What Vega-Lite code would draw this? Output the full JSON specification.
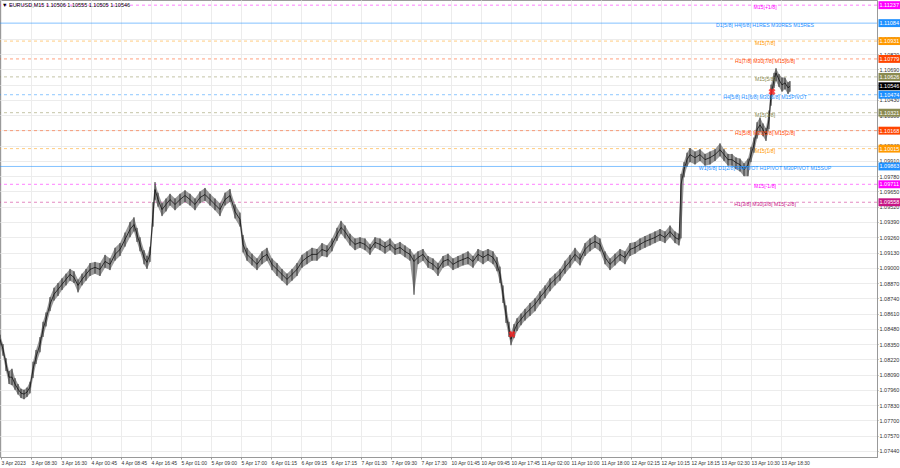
{
"$schema": "https://vega.github.io/schema/vega-lite/v6.json",
"width": 877, "height": 457,
"autosize": {"type": "none"},
"padding": {"left": 0, "top": 0, "right": 23, "bottom": 11},
"background": "white",
"config": {"view": {"stroke": "#9a9a9a"}, "font": "Liberation Sans", "axis": {"labelOverlap": false, "labelBound": false, "labelFlush": false}},
"datasets": {
"bars": [
{"i":0,"h":1.0843,"l":1.0834,"c":1.08391},{"i":3,"h":1.0835,"l":1.0825,"c":1.08306},{"i":6,"h":1.0823,"l":1.0812,"c":1.08179},{"i":9,"h":1.0812,"l":1.0801,"c":1.08068},{"i":12,"h":1.0814,"l":1.08,"c":1.08068},{"i":15,"h":1.0806,"l":1.0796,"c":1.08009},{"i":18,"h":1.0801,"l":1.0792,"c":1.07966},{"i":21,"h":1.0797,"l":1.0789,"c":1.07932},{"i":24,"h":1.0796,"l":1.0788,"c":1.07924},{"i":27,"h":1.0798,"l":1.079,"c":1.07941},{"i":30,"h":1.0803,"l":1.0793,"c":1.07983},{"i":33,"h":1.082,"l":1.0806,"c":1.08136},{"i":36,"h":1.083,"l":1.0818,"c":1.08238},{"i":40,"h":1.0841,"l":1.0828,"c":1.08349},{"i":43,"h":1.0854,"l":1.0841,"c":1.08476},{"i":46,"h":1.0862,"l":1.085,"c":1.08561},{"i":50,"h":1.0875,"l":1.0863,"c":1.08689},{"i":54,"h":1.0883,"l":1.0872,"c":1.08774},{"i":58,"h":1.0887,"l":1.0876,"c":1.08816},{"i":62,"h":1.0891,"l":1.0881,"c":1.08859},{"i":66,"h":1.0895,"l":1.0885,"c":1.08901},{"i":70,"h":1.0899,"l":1.0889,"c":1.08944},{"i":74,"h":1.0897,"l":1.0887,"c":1.08918},{"i":78,"h":1.089,"l":1.0879,"c":1.0885},{"i":82,"h":1.0895,"l":1.0885,"c":1.08901},{"i":86,"h":1.0899,"l":1.0889,"c":1.08944},{"i":90,"h":1.0904,"l":1.0893,"c":1.08986},{"i":95,"h":1.0905,"l":1.0895,"c":1.09003},{"i":100,"h":1.0904,"l":1.0893,"c":1.08986},{"i":105,"h":1.0911,"l":1.09,"c":1.09054},{"i":110,"h":1.0908,"l":1.0898,"c":1.09029},{"i":115,"h":1.0917,"l":1.0906,"c":1.09114},{"i":120,"h":1.0921,"l":1.091,"c":1.09156},{"i":125,"h":1.093,"l":1.0918,"c":1.09241},{"i":130,"h":1.0939,"l":1.0926,"c":1.09326},{"i":134,"h":1.0943,"l":1.0931,"c":1.09368},{"i":137,"h":1.0934,"l":1.0922,"c":1.09283},{"i":140,"h":1.0926,"l":1.0914,"c":1.09199},{"i":144,"h":1.0915,"l":1.0903,"c":1.09088},{"i":147,"h":1.091,"l":1.0899,"c":1.09046},{"i":150,"h":1.0918,"l":1.0905,"c":1.09114},{"i":153,"h":1.0956,"l":1.0935,"c":1.09454},{"i":155,"h":1.0973,"l":1.0958,"c":1.09666},{"i":158,"h":1.0964,"l":1.0952,"c":1.09581},{"i":162,"h":1.0955,"l":1.0944,"c":1.09496},{"i":166,"h":1.0959,"l":1.0948,"c":1.09539},{"i":170,"h":1.0963,"l":1.0953,"c":1.09581},{"i":175,"h":1.0959,"l":1.0949,"c":1.09539},{"i":180,"h":1.0963,"l":1.0953,"c":1.09581},{"i":185,"h":1.0966,"l":1.0956,"c":1.09615},{"i":190,"h":1.0963,"l":1.0953,"c":1.09581},{"i":195,"h":1.0959,"l":1.0949,"c":1.09539},{"i":200,"h":1.0965,"l":1.0955,"c":1.09598},{"i":205,"h":1.0968,"l":1.0957,"c":1.09624},{"i":210,"h":1.0963,"l":1.0953,"c":1.09581},{"i":215,"h":1.0959,"l":1.0949,"c":1.09539},{"i":220,"h":1.0955,"l":1.0944,"c":1.09496},{"i":225,"h":1.0964,"l":1.0953,"c":1.09581},{"i":230,"h":1.0967,"l":1.0956,"c":1.09615},{"i":235,"h":1.0954,"l":1.0942,"c":1.09479},{"i":240,"h":1.0947,"l":1.0935,"c":1.09411},{"i":243,"h":1.0928,"l":1.0913,"c":1.09199},{"i":247,"h":1.0917,"l":1.0906,"c":1.09114},{"i":252,"h":1.0912,"l":1.0902,"c":1.09071},{"i":257,"h":1.0908,"l":1.0898,"c":1.09029},{"i":262,"h":1.0914,"l":1.0903,"c":1.09088},{"i":267,"h":1.0917,"l":1.0906,"c":1.09114},{"i":272,"h":1.0908,"l":1.0898,"c":1.09029},{"i":277,"h":1.0904,"l":1.0893,"c":1.08986},{"i":282,"h":1.0899,"l":1.0889,"c":1.08944},{"i":287,"h":1.0895,"l":1.0885,"c":1.08901},{"i":292,"h":1.0899,"l":1.0889,"c":1.08944},{"i":297,"h":1.0904,"l":1.0893,"c":1.08986},{"i":302,"h":1.0911,"l":1.09,"c":1.09054},{"i":307,"h":1.0914,"l":1.0903,"c":1.09088},{"i":312,"h":1.0917,"l":1.0906,"c":1.09114},{"i":317,"h":1.0916,"l":1.0906,"c":1.09114},{"i":322,"h":1.0921,"l":1.091,"c":1.09156},{"i":327,"h":1.0919,"l":1.0909,"c":1.09139},{"i":332,"h":1.0925,"l":1.0914,"c":1.09199},{"i":337,"h":1.0934,"l":1.0923,"c":1.09283},{"i":341,"h":1.094,"l":1.0929,"c":1.09343},{"i":345,"h":1.0936,"l":1.0925,"c":1.09309},{"i":350,"h":1.0929,"l":1.0919,"c":1.09241},{"i":355,"h":1.0925,"l":1.0915,"c":1.09199},{"i":360,"h":1.0926,"l":1.0917,"c":1.09216},{"i":365,"h":1.0925,"l":1.0915,"c":1.09199},{"i":370,"h":1.092,"l":1.0911,"c":1.09156},{"i":375,"h":1.0926,"l":1.0917,"c":1.09216},{"i":380,"h":1.0925,"l":1.0915,"c":1.09199},{"i":385,"h":1.0922,"l":1.0912,"c":1.09173},{"i":390,"h":1.0925,"l":1.0915,"c":1.09199},{"i":395,"h":1.092,"l":1.0911,"c":1.09156},{"i":400,"h":1.0922,"l":1.0912,"c":1.09173},{"i":405,"h":1.0919,"l":1.0909,"c":1.09139},{"i":410,"h":1.0916,"l":1.0906,"c":1.09114},{"i":414,"h":1.0911,"l":1.0877,"c":1.09054},{"i":418,"h":1.0914,"l":1.0903,"c":1.09088},{"i":423,"h":1.0916,"l":1.0906,"c":1.09114},{"i":428,"h":1.091,"l":1.09,"c":1.09054},{"i":433,"h":1.0908,"l":1.0898,"c":1.09029},{"i":438,"h":1.0904,"l":1.0893,"c":1.08986},{"i":443,"h":1.091,"l":1.09,"c":1.09054},{"i":448,"h":1.0912,"l":1.0902,"c":1.09071},{"i":453,"h":1.0908,"l":1.0898,"c":1.09029},{"i":458,"h":1.091,"l":1.09,"c":1.09054},{"i":463,"h":1.0912,"l":1.0902,"c":1.09071},{"i":468,"h":1.0914,"l":1.0903,"c":1.09088},{"i":473,"h":1.091,"l":1.09,"c":1.09054},{"i":478,"h":1.0916,"l":1.0906,"c":1.09114},{"i":483,"h":1.0914,"l":1.0903,"c":1.09088},{"i":488,"h":1.0916,"l":1.0906,"c":1.09114},{"i":493,"h":1.0914,"l":1.0903,"c":1.09088},{"i":497,"h":1.0909,"l":1.0897,"c":1.09029},{"i":500,"h":1.0901,"l":1.0887,"c":1.08944},{"i":503,"h":1.0885,"l":1.087,"c":1.08774},{"i":506,"h":1.0868,"l":1.0853,"c":1.08604},{"i":509,"h":1.0854,"l":1.0841,"c":1.08476},{"i":511,"h":1.0845,"l":1.0834,"c":1.08391},{"i":514,"h":1.0852,"l":1.084,"c":1.08459},{"i":517,"h":1.0857,"l":1.0846,"c":1.08519},{"i":521,"h":1.0861,"l":1.0851,"c":1.08561},{"i":525,"h":1.0865,"l":1.0855,"c":1.08604},{"i":530,"h":1.087,"l":1.0859,"c":1.08646},{"i":535,"h":1.0874,"l":1.0863,"c":1.08689},{"i":540,"h":1.088,"l":1.0869,"c":1.08748},{"i":545,"h":1.0885,"l":1.0874,"c":1.08799},{"i":550,"h":1.0891,"l":1.088,"c":1.08859},{"i":555,"h":1.0895,"l":1.0885,"c":1.08901},{"i":560,"h":1.0899,"l":1.0889,"c":1.08944},{"i":565,"h":1.0906,"l":1.0895,"c":1.09003},{"i":570,"h":1.0911,"l":1.09,"c":1.09054},{"i":575,"h":1.0917,"l":1.0906,"c":1.09114},{"i":580,"h":1.0912,"l":1.0902,"c":1.09071},{"i":585,"h":1.0921,"l":1.091,"c":1.09156},{"i":590,"h":1.0925,"l":1.0914,"c":1.09199},{"i":595,"h":1.0928,"l":1.0917,"c":1.09224},{"i":600,"h":1.0925,"l":1.0914,"c":1.09199},{"i":605,"h":1.0914,"l":1.0903,"c":1.09088},{"i":610,"h":1.0908,"l":1.0898,"c":1.09029},{"i":615,"h":1.0912,"l":1.0902,"c":1.09071},{"i":620,"h":1.0916,"l":1.0906,"c":1.09114},{"i":625,"h":1.0914,"l":1.0903,"c":1.09088},{"i":630,"h":1.0921,"l":1.091,"c":1.09156},{"i":635,"h":1.0922,"l":1.0912,"c":1.09173},{"i":640,"h":1.0925,"l":1.0915,"c":1.09199},{"i":645,"h":1.0927,"l":1.0917,"c":1.09224},{"i":650,"h":1.0929,"l":1.0919,"c":1.09241},{"i":655,"h":1.0931,"l":1.0921,"c":1.09258},{"i":660,"h":1.0933,"l":1.0923,"c":1.09283},{"i":665,"h":1.0931,"l":1.0921,"c":1.09258},{"i":670,"h":1.0936,"l":1.0926,"c":1.09309},{"i":675,"h":1.0931,"l":1.0921,"c":1.09258},{"i":679,"h":1.0929,"l":1.0919,"c":1.09241},{"i":681,"h":1.098,"l":1.0925,"c":1.09709},{"i":684,"h":1.099,"l":1.0977,"c":1.09836},{"i":687,"h":1.0998,"l":1.0986,"c":1.09921},{"i":690,"h":1.1002,"l":1.099,"c":1.09964},{"i":695,"h":1.0999,"l":1.0988,"c":1.09938},{"i":700,"h":1.1001,"l":1.0991,"c":1.09964},{"i":705,"h":1.0997,"l":1.0987,"c":1.09921},{"i":710,"h":1.0999,"l":1.0988,"c":1.09938},{"i":715,"h":1.1001,"l":1.0991,"c":1.09964},{"i":720,"h":1.1006,"l":1.0995,"c":1.10006},{"i":724,"h":1.1001,"l":1.0991,"c":1.09964},{"i":728,"h":1.0997,"l":1.0987,"c":1.09921},{"i":732,"h":1.0997,"l":1.0987,"c":1.09921},{"i":736,"h":1.0994,"l":1.0984,"c":1.09896},{"i":740,"h":1.0993,"l":1.0982,"c":1.09879},{"i":744,"h":1.0989,"l":1.0978,"c":1.09836},{"i":748,"h":1.0993,"l":1.0978,"c":1.09879},{"i":751,"h":1.1003,"l":1.099,"c":1.09964},{"i":754,"h":1.1011,"l":1.0998,"c":1.10049},{"i":757,"h":1.1024,"l":1.101,"c":1.10176},{"i":760,"h":1.1028,"l":1.1016,"c":1.10218},{"i":763,"h":1.1023,"l":1.1012,"c":1.10176},{"i":766,"h":1.1019,"l":1.1008,"c":1.10133},{"i":769,"h":1.1034,"l":1.1018,"c":1.10261},{"i":771,"h":1.1056,"l":1.1038,"c":1.10473},{"i":774,"h":1.1066,"l":1.1053,"c":1.10601},{"i":776,"h":1.107,"l":1.1059,"c":1.1066},{"i":779,"h":1.1065,"l":1.1054,"c":1.10601},{"i":782,"h":1.1062,"l":1.105,"c":1.10558},{"i":785,"h":1.1062,"l":1.1052,"c":1.10575},{"i":788,"h":1.1058,"l":1.1048,"c":1.10533},{"i":790,"h":1.1059,"l":1.105,"c":1.10546}
],
"levels": [
{"p":1.11237,"t":"M15[+1/8]","g":"mag"},
{"p":1.11084,"t":"D1[5/8] H4[6/8] H1RES M30RES M15RES","g":"blue"},
{"p":1.10931,"t":"M15[7/8]","g":"orange"},
{"p":1.10779,"t":"H1[7/8] M30[7/8] M15[6/8]","g":"red"},
{"p":1.10626,"t":"M15[5/8]","g":"olive"},
{"p":1.10474,"t":"H4[5/8] H1[6/8] M30[6/8] M15PIVOT","g":"blue"},
{"p":1.10321,"t":"M15[3/8]","g":"olive"},
{"p":1.10168,"t":"H1[5/8] M30[5/8] M15[2/8]","g":"red"},
{"p":1.10015,"t":"M15[1/8]","g":"orange"},
{"p":1.09863,"t":"W1[6/8] D1[2/8] H4PIVOT H1PIVOT M30PIVOT M15SUP","g":"blue"},
{"p":1.09711,"t":"M15[-1/8]","g":"mag"},
{"p":1.09558,"t":"H1[3/8] M30[3/8] M15[-2/8]","g":"violet"}
],
"boxes": [
{"p":1.11237,"g":"mag"},{"p":1.11084,"g":"blue"},{"p":1.10931,"g":"orange"},{"p":1.10779,"g":"red"},{"p":1.10626,"g":"olive"},{"p":1.10546,"g":"price"},{"p":1.10474,"g":"blue"},{"p":1.10321,"g":"olive"},{"p":1.10168,"g":"red"},{"p":1.10015,"g":"orange"},{"p":1.09863,"g":"blue"},{"p":1.09711,"g":"mag"},{"p":1.09558,"g":"violet"}
],
"crosses": [{"i":512,"p":1.08434},{"i":772,"p":1.10499}]
},
"layer": [
{
"data": {"name": "levels"},
"transform": [{"filter": {"not": {"field": "p", "oneOf": [1.11084, 1.09863]}}}],
"mark": {"type": "rule", "strokeDash": [3, 3], "strokeWidth": 1, "opacity": 0.5},
"encoding": {
"y": {"field": "p", "type": "quantitative",
"scale": {"domain": [1.07388, 1.11281], "nice": false, "zero": false},
"axis": {"orient": "right", "values": [1.0744,1.0757,1.077,1.0783,1.0796,1.0809,1.0822,1.0835,1.0848,1.0861,1.0874,1.0887,1.09,1.0913,1.0926,1.0939,1.0952,1.0965,1.0978,1.0991,1.1004,1.1017,1.103,1.1043,1.1056,1.1069,1.1082,1.1095],
"tickCount": 200, "format": ".5f", "labelFontSize": 5.5, "labelColor": "#333", "labelPadding": 1, "tickSize": 1, "tickColor": "#999", "domainColor": "#999", "gridColor": "#ececec", "title": null, "labelOverlap": false}},
"color": {"field": "g", "type": "nominal", "legend": null,
"scale": {"domain": ["mag","blue","orange","red","olive","violet","price"], "range": ["#ff00ff","#1e90ff","#ff9900","#ff4500","#8a8a50","#c71585","#000000"]}}
}
},
{
"data": {"name": "bars"},
"mark": {"type": "area", "color": "#777", "opacity": 0.75},
"encoding": {
"x": {"field": "i", "type": "quantitative",
"scale": {"domain": [0, 877], "nice": false, "zero": false},
"axis": {"values": [1,31,61,91,121,151,181,211,241,271,301,331,361,391,421,451,481,511,541,571,601,631,661,691,721,751,781],
"tickCount": 200,
"labelExpr": "['3 Apr 2023','3 Apr 08:30','3 Apr 16:30','4 Apr 00:45','4 Apr 08:45','4 Apr 16:45','5 Apr 01:00','5 Apr 09:00','5 Apr 17:00','6 Apr 01:15','6 Apr 09:15','6 Apr 17:15','7 Apr 01:30','7 Apr 09:30','7 Apr 17:30','10 Apr 01:45','10 Apr 09:45','10 Apr 17:45','11 Apr 02:00','11 Apr 10:00','11 Apr 18:00','12 Apr 02:15','12 Apr 10:15','12 Apr 18:15','13 Apr 02:30','13 Apr 10:30','13 Apr 18:30'][round((datum.value-1)/30)]",
"labelAlign": "left", "labelFontSize": 5, "labelColor": "#333", "labelPadding": 1, "tickSize": 2, "tickColor": "#999", "domainColor": "#999", "gridColor": "#ececec", "title": null, "labelOverlap": false}},
"y": {"field": "l", "type": "quantitative"},
"y2": {"field": "h"}
}
},
{
"data": {"name": "bars"},
"mark": {"type": "rule", "color": "#333", "strokeWidth": 1},
"encoding": {
"x": {"field": "i", "type": "quantitative"},
"y": {"field": "l", "type": "quantitative"},
"y2": {"field": "h"}
}
},
{
"data": {"name": "bars"},
"mark": {"type": "line", "color": "#111", "strokeWidth": 0.8},
"encoding": {
"x": {"field": "i", "type": "quantitative"},
"y": {"field": "c", "type": "quantitative"}
}
},
{
"data": {"name": "levels"},
"transform": [{"filter": {"field": "p", "oneOf": [1.11084, 1.09863]}}],
"mark": {"type": "rule", "strokeWidth": 1, "opacity": 0.55},
"encoding": {
"y": {"field": "p", "type": "quantitative"},
"color": {"field": "g", "type": "nominal", "legend": null}
}
},
{
"data": {"name": "levels"},
"mark": {"type": "text", "fontSize": 5.2, "align": "center", "baseline": "middle", "dy": 2},
"encoding": {
"x": {"datum": 765, "type": "quantitative"},
"y": {"field": "p", "type": "quantitative"},
"text": {"field": "t"},
"color": {"field": "g", "type": "nominal", "legend": null}
}
},
{
"data": {"name": "crosses"},
"mark": {"type": "point", "shape": "cross", "angle": 45, "filled": true, "size": 50, "color": "#ff2020", "opacity": 0.8},
"encoding": {
"x": {"field": "i", "type": "quantitative"},
"y": {"field": "p", "type": "quantitative"}
}
},
{
"data": {"name": "boxes"},
"mark": {"type": "point", "shape": "M-1,-0.36H1V0.36H-1Z", "filled": true, "size": 484, "opacity": 1},
"encoding": {
"x": {"datum": 889.5, "type": "quantitative"},
"y": {"field": "p", "type": "quantitative"},
"color": {"field": "g", "type": "nominal", "legend": null}
}
},
{
"data": {"name": "boxes"},
"mark": {"type": "text", "fontSize": 5.5, "align": "left", "baseline": "middle", "color": "white"},
"encoding": {
"x": {"datum": 879.5, "type": "quantitative"},
"y": {"field": "p", "type": "quantitative"},
"text": {"field": "p", "format": ".5f"}
}
},
{
"data": {"values": [{"s": "\u25BC  EURUSD,M15  1.10506 1.10555 1.10505 1.10546"}]},
"mark": {"type": "text", "fontSize": 5.5, "align": "left", "baseline": "middle", "color": "#000"},
"encoding": {
"x": {"datum": 2, "type": "quantitative"},
"y": {"datum": 1.11240, "type": "quantitative"},
"text": {"field": "s"}
}
}
]
}
